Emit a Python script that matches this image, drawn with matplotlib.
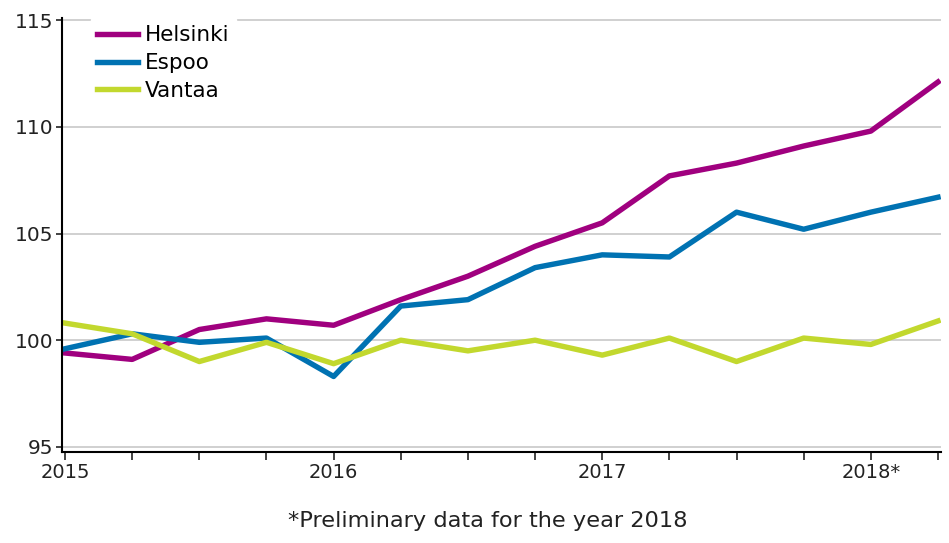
import matplotlib
matplotlib.use("Agg")
import matplotlib.pyplot as plt

quarters = ["2015Q1", "2015Q2", "2015Q3", "2015Q4",
            "2016Q1", "2016Q2", "2016Q3", "2016Q4",
            "2017Q1", "2017Q2", "2017Q3", "2017Q4",
            "2018Q1", "2018Q2"]
helsinki = [99.4, 99.1, 100.5, 101.0, 100.7, 101.9, 103.0, 104.4, 105.5, 107.7, 108.3, 109.1, 109.8, 112.1]
espoo = [99.6, 100.3, 99.9, 100.1, 98.3, 101.6, 101.9, 103.4, 104.0, 103.9, 106.0, 105.2, 106.0, 106.7]
vantaa = [100.8, 100.3, 99.0, 99.9, 98.9, 100.0, 99.5, 100.0, 99.3, 100.1, 99.0, 100.1, 99.8, 100.9]
year_labels = ["2015", "2016", "2017", "2018*"]
yticks = [95, 100, 105, 110, 115]
note = "*Preliminary data for the year 2018"

fig = plt.figure(figsize=(9.49, 5.43), dpi=100)
ax = fig.add_axes([62/949, 1-452/543, (941-62)/949, (452-18)/543])

x = list(range(len(quarters)))
ax.plot(x, helsinki, color="#a0007f", lw=3.9, label="Helsinki")
ax.plot(x, espoo, color="#0072b2", lw=3.9, label="Espoo")
ax.plot(x, vantaa, color="#c2d82e", lw=3.9, label="Vantaa")

ax.set_xlim(-0.045, 13.045)
ax.set_ylim(94.76, 115.1)
ax.set_yticks(yticks)
ax.set_yticklabels([str(v) for v in yticks])
ax.set_xticks(x)
ax.set_xticklabels([year_labels[i // 4] if i % 4 == 0 else "" for i in x])
ax.grid(axis="y", color="#c8c8c8", lw=1.2)
ax.set_axisbelow(True)
for s in ["top", "right"]:
    ax.spines[s].set_visible(False)
ax.spines["left"].set_linewidth(1.5)
ax.spines["bottom"].set_linewidth(1.5)
ax.tick_params(axis="x", labelsize=14, colors="#222222", length=6, width=1.2, pad=2)
ax.tick_params(axis="y", labelsize=14.5, colors="#222222", length=4, width=1.2, pad=2)

leg = fig.legend(loc="upper left", bbox_to_anchor=(91/949, 1-19/543), frameon=True, fontsize=15.5,
                 handlelength=1.9, handletextpad=0.3, labelspacing=0.36, borderpad=0.3,
                 borderaxespad=0)
leg.get_frame().set_edgecolor("white")
leg.get_frame().set_facecolor("white")
leg.get_frame().set_alpha(1)
leg.get_frame().set_boxstyle("square", pad=0)

fig.text(487.5/949, 1-521/543, note, ha="center", va="center", fontsize=16.2, color="#222222")

fig.savefig("out.png", dpi=100)
